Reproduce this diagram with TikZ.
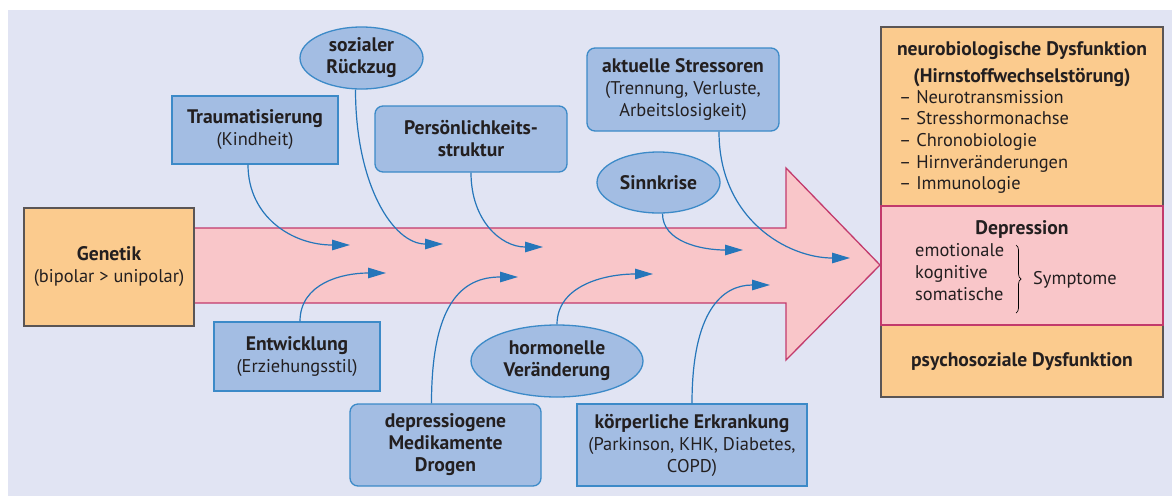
\documentclass[tikz,border=0pt]{standalone}
\usepackage{fontspec}
\setmainfont{PT Sans}
\usetikzlibrary{arrows.meta,shapes.geometric,decorations.pathreplacing}
\definecolor{bg}{HTML}{E1E4F3}
\definecolor{ofill}{HTML}{FBCB8E}
\definecolor{oborder}{HTML}{5A5555}
\definecolor{pfill}{HTML}{F9C6C9}
\definecolor{pborder}{HTML}{C23A6C}
\definecolor{bfill}{HTML}{A3BDE3}
\definecolor{bborder}{HTML}{3C8AC8}
\definecolor{arrc}{HTML}{2576BA}
\definecolor{txt}{HTML}{231F20}
\newcommand{\bfx}[1]{{\fontsize{19.6}{22}\selectfont\bfseries #1}}
\begin{document}
\begin{tikzpicture}[x=1pt,y=-1pt,
  font=\fontsize{18.4}{22}\selectfont, text=txt,
  bluebox/.style={draw=bborder, fill=bfill, line width=1.3pt, align=center, inner sep=0pt},
  roundbox/.style={bluebox, rounded corners=8pt},
  ellbox/.style={bluebox, ellipse},
  obox/.style={draw=oborder, fill=ofill, line width=1.3pt, inner sep=0pt, align=center},
  conn/.style={draw=arrc, line width=1.2pt, -{Triangle[length=18pt,width=10.5pt]}},
  plain/.style={inner sep=0pt, align=center}]
\useasboundingbox (0,0) rectangle (1172,496);
\fill[bg] (8,10) rectangle (1172,496);

% big arrow
\draw[fill=pfill, draw=pborder, line width=1.3pt, line join=miter]
  (194,228) -- (786,228) -- (786,168) -- (880,265) -- (786,360) -- (786,303) -- (194,303);

% Genetik
\node[obox, minimum width=170, minimum height=118] (gen) at (109,267)
  {\bfx{Genetik}\\(bipolar > unipolar)};

% right column
\node[obox, minimum width=282, minimum height=370] (col) at (1022,212) {};
\node[draw=pborder, fill=pfill, line width=1.3pt, minimum width=282, minimum height=119, inner sep=0pt] (dep) at (1022,265.5) {};
\node[plain, font=\fontsize{19.6}{27}\selectfont\bfseries] (neuro) at (1022,64)
  {neurobiologische Dysfunktion\\(Hirnstoffwechselstörung)};
\node[plain, align=left, anchor=west, font=\fontsize{18.4}{21.7}\selectfont] (list) at (899,142)
  {– Neurotransmission\\– Stresshormonachse\\– Chronobiologie\\– Hirnveränderungen\\– Immunologie};
\node[plain, font=\fontsize{19.6}{22}\selectfont\bfseries] (deptitle) at (1022,229) {Depression};
\node[plain, align=left, anchor=west] (sym) at (915,272) {emotionale\\kognitive\\somatische};
\coordinate (bt) at (1016,245);
\coordinate (bb) at (1016,313);
\draw[line width=0.7pt, decorate, decoration={brace, amplitude=5pt}] (bt) -- (bb);
\node[plain, anchor=west] (symp) at (1033,280) {Symptome};
\node[plain, font=\fontsize{19.6}{22}\selectfont\bfseries] (psy) at (1022,362) {psychosoziale Dysfunktion};

% factor nodes
\node[bluebox, minimum width=166, minimum height=68] (trau) at (255,130)
  {\bfx{Traumatisierung}\\(Kindheit)};
\node[ellbox, minimum width=123, minimum height=62] (soz) at (361.5,58)
  {\bfx{sozialer}\\\bfx{Rückzug}};
\node[roundbox, minimum width=192, minimum height=66] (pers) at (471,139)
  {\bfx{Persönlichkeits-}\\\bfx{struktur}};
\node[roundbox, minimum width=192, minimum height=83] (stress) at (683,89.5)
  {\bfx{aktuelle Stressoren}\\(Trennung, Verluste,\\Arbeitslosigkeit)};
\node[ellbox, minimum width=123, minimum height=61] (sinn) at (658.5,182.5)
  {\bfx{Sinnkrise}};
\node[bluebox, minimum width=166, minimum height=69] (entw) at (297,356.5)
  {\bfx{Entwicklung}\\(Erziehungsstil)};
\node[roundbox, minimum width=191, minimum height=82] (drog) at (445.5,445)
  {\bfx{depressiogene}\\\bfx{Medikamente}\\\bfx{Drogen}};
\node[ellbox, minimum width=172, minimum height=72] (horm) at (557,361)
  {\bfx{hormonelle}\\\bfx{Veränderung}};
\node[bluebox, minimum width=230, minimum height=82] (koerp) at (692,445)
  {\bfx{körperliche Erkrankung}\\(Parkinson, KHK, Diabetes,\\COPD)};

% arrow targets
\coordinate (t1) at (350,245);
\coordinate (t2) at (443,244);
\coordinate (t3) at (543,247);
\coordinate (t4) at (743,250);
\coordinate (t5) at (850,258);
\coordinate (t6) at (386,273);
\coordinate (t7) at (518,277);
\coordinate (t8) at (653,274);
\coordinate (t9) at (770,285);

% connectors
\draw[conn] ([xshift=-7pt]trau.south) .. controls +(0,52) and +(-58,0) .. (t1);
\draw[conn] ([xshift=-6pt]soz.south) .. controls +(0,95) and +(-50,0) .. (t2);
\draw[conn] (pers.south) .. controls +(0,48) and +(-42,0) .. (t3);
\draw[conn] ([xshift=4pt]sinn.south) .. controls +(0,28) and +(-42,0) .. (t4);
\draw[conn] ([xshift=36pt]stress.south) .. controls +(0,88) and +(-62,0) .. (t5);
\draw[conn] ([xshift=3pt]entw.north) .. controls +(0,-38) and +(-44,0) .. (t6);
\draw[conn] ([xshift=-14pt]drog.north) .. controls +(0,-100) and +(-56,0) .. (t7);
\draw[conn] (horm.north) .. controls +(0,-38) and +(-50,0) .. (t8);
\draw[conn] (koerp.north) .. controls +(0,-92) and +(-48,0) .. (t9);
\end{tikzpicture}
\end{document}
